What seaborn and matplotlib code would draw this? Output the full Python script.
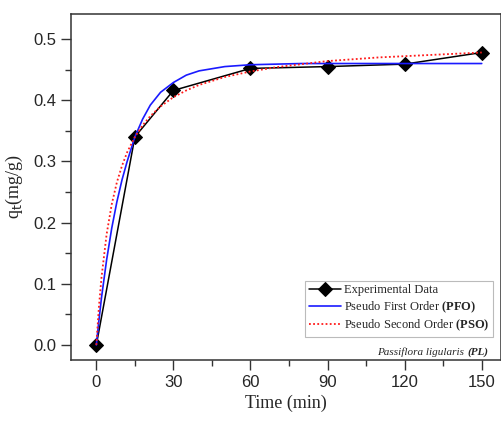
import seaborn as sns
import matplotlib.pyplot as plt
from matplotlib.ticker import MultipleLocator

sns.set_theme(style="ticks")
plt.rcParams['font.family'] = ['Liberation Sans', 'DejaVu Sans']

# experimental points
exp_t = [0, 15, 30, 60, 90, 120, 150]
exp_q = [0.0, 0.340, 0.416, 0.452, 0.455, 0.459, 0.478]

# model curves
pfo_t = [0, 1, 2, 4, 6, 8, 10, 12, 15, 18, 21, 25, 30, 35, 40, 50, 60, 80, 100, 150]
pfo_q = [0.0, 0.040, 0.077, 0.139, 0.191, 0.234, 0.270, 0.300, 0.340, 0.369, 0.392,
         0.413, 0.429, 0.441, 0.448, 0.455, 0.458, 0.460, 0.460, 0.460]

pso_t = [0, 1, 2, 4, 6, 8, 10, 12, 15, 18, 21, 25, 30, 35, 40, 50, 60, 70, 80, 90,
         100, 110, 120, 130, 140, 150]
pso_q = [0.0, 0.062, 0.110, 0.181, 0.230, 0.266, 0.293, 0.315, 0.340, 0.359, 0.374,
         0.390, 0.405, 0.416, 0.425, 0.438, 0.447, 0.454, 0.459, 0.464,
         0.467, 0.470, 0.472, 0.474, 0.476, 0.478]

fig = plt.figure(figsize=(5.01, 4.23), dpi=100)
ax = fig.add_axes([0.141, 0.149, 0.859, 0.818])

sns.lineplot(x=exp_t, y=exp_q, ax=ax, color='black', lw=1.1, marker='D',
             markersize=7, markeredgecolor='black', label='Experimental Data')
sns.lineplot(x=pfo_t, y=pfo_q, ax=ax, color='#1a1aff', lw=1.2,
             label='Pseudo First Order $\\mathbf{(PFO)}$')
sns.lineplot(x=pso_t, y=pso_q, ax=ax, color='#ff1a1a', lw=1.3, ls=(0, (1, 1.3)),
             label='Pseudo Second Order $\\mathbf{(PSO)}$')

ax.set_xlim(-10, 157.5)
ax.set_ylim(-0.0245, 0.541)
ax.xaxis.set_major_locator(MultipleLocator(30))
ax.xaxis.set_minor_locator(MultipleLocator(15))
ax.yaxis.set_major_locator(MultipleLocator(0.1))
ax.yaxis.set_minor_locator(MultipleLocator(0.05))
ax.yaxis.set_major_formatter(plt.FormatStrFormatter('%.1f'))
ax.tick_params(which='major', length=7, width=1, color='#333333', labelsize=12)
ax.tick_params(which='minor', length=4, width=1, color='#333333')
for s in ax.spines.values():
    s.set_color('#333333')
    s.set_linewidth(1.1)

plt.rcParams['mathtext.fontset'] = 'custom'
plt.rcParams['mathtext.rm'] = 'Liberation Serif'
plt.rcParams['mathtext.bf'] = 'Liberation Serif:bold'
ax.set_xlabel('Time (min)', family='Liberation Serif', fontsize=13, labelpad=4)
ax.set_ylabel('q$_\\mathrm{t}$(mg/g)', family='Liberation Serif', fontsize=13, labelpad=6)

leg = ax.legend(loc='lower right', bbox_to_anchor=(0.981, 0.066), borderaxespad=0,
                prop={'family': 'Liberation Serif', 'size': 9}, fancybox=False,
                edgecolor='#bbbbbb', framealpha=1, handlelength=2.6,
                handletextpad=0.2, borderpad=0.3, labelspacing=0.25)
leg.get_frame().set_linewidth(0.8)

t1 = ax.text(0.970, 0.023, '(PL)', transform=ax.transAxes, ha='right', va='center',
             family='Liberation Serif', style='italic', weight='bold', fontsize=8)
ax.annotate('Passiflora ligularis ', xy=(0, 0.5), xycoords=t1, ha='right', va='center',
            family='Liberation Serif', style='italic', fontsize=8)

fig.savefig('out.png', dpi=100)
